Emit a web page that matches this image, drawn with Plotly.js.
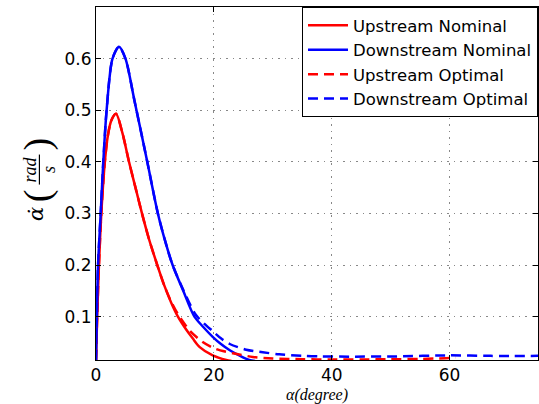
<!DOCTYPE html>
<html>
<head>
<meta charset="utf-8">
<script src="https://cdn.plot.ly/plotly-3.0.1.min.js"></script>
<style>html,body{margin:0;padding:0;background:#fff}#chart{width:539px;height:404px}</style>
</head>
<body>
<div id="chart"></div>
<script>
// Upstream Nominal (red solid)
const upNomX = [0, 0.2, 0.5, 0.9, 1.5, 2.0, 2.6, 3.4, 4.5, 5.6, 6.7, 7.8, 9.0, 10.4, 11.6, 12.8, 13.9, 15.3, 16.4, 17.6, 19.8, 22.1, 23.0];
const upNomY = [0.016, 0.1, 0.2, 0.3, 0.4, 0.45, 0.48, 0.493, 0.455, 0.4, 0.35, 0.3, 0.25, 0.2, 0.16, 0.126, 0.1, 0.075, 0.058, 0.041, 0.025, 0.016, 0.014];
// Downstream Nominal (blue solid)
const dnNomX = [0, 0.15, 0.35, 0.8, 1.24, 1.8, 2.8, 3.9, 5.0, 6.5, 8.7, 10.5, 11.9, 13.0, 14.8, 16.7, 18.2, 19.8, 21.2, 22.7, 24.3, 26.0, 27.0];
const dnNomY = [0.016, 0.1, 0.2, 0.3, 0.4, 0.5, 0.6, 0.623, 0.6, 0.52, 0.4, 0.3, 0.24, 0.2, 0.15, 0.1, 0.08, 0.061, 0.047, 0.035, 0.025, 0.016, 0.014];
// Upstream Optimal (red dashed)
const upOptX = [0, 0.2, 0.5, 0.9, 1.5, 2.0, 2.6, 3.4, 4.5, 5.6, 6.7, 7.8, 9.0, 10.4, 11.6, 12.8, 14.0, 15.9, 18.1, 20.4, 23.2, 26.6, 30.0, 35.0, 40.0, 45.0, 50.0, 55.0, 58.0, 60.0, 61.0];
const upOptY = [0.016, 0.1, 0.2, 0.3, 0.4, 0.45, 0.48, 0.493, 0.455, 0.4, 0.35, 0.3, 0.25, 0.2, 0.16, 0.128, 0.103, 0.073, 0.051, 0.037, 0.029, 0.022, 0.019, 0.0175, 0.017, 0.017, 0.0175, 0.018, 0.019, 0.02, 0.021];
// Downstream Optimal (blue dashed)
const dnOptX = [0, 0.15, 0.35, 0.8, 1.24, 1.8, 2.8, 3.9, 5.0, 6.5, 8.7, 10.5, 11.9, 13.0, 14.8, 16.9, 18.4, 19.8, 21.2, 22.7, 25.5, 28.3, 31.1, 35.0, 38.0, 43.0, 51.0, 60.0, 67.0, 75.0];
const dnOptY = [0.016, 0.1, 0.2, 0.3, 0.4, 0.5, 0.6, 0.623, 0.6, 0.52, 0.4, 0.3, 0.24, 0.2, 0.152, 0.104, 0.086, 0.072, 0.058, 0.047, 0.036, 0.031, 0.027, 0.024, 0.023, 0.0225, 0.023, 0.025, 0.024, 0.024];

const xTicks = [0, 20, 40, 60];
const yTicks = [0.1, 0.2, 0.3, 0.4, 0.5, 0.6];

const lineOpts = (color, dash) => ({color: color, width: 2.5, dash: dash, shape: 'spline', smoothing: 0.8});
const traces = [
  {x: upNomX, y: upNomY, name: 'Upstream Nominal', mode: 'lines', line: lineOpts('#ff0000', 'solid')},
  {x: dnNomX, y: dnNomY, name: 'Downstream Nominal', mode: 'lines', line: lineOpts('#0000ff', 'solid')},
  {x: upOptX, y: upOptY, name: 'Upstream Optimal', mode: 'lines', line: lineOpts('#ff0000', '10px,6px')},
  {x: dnOptX, y: dnOptY, name: 'Downstream Optimal', mode: 'lines', line: lineOpts('#0000ff', '10px,6px')}
];

const sans = 'DejaVu Sans, Liberation Sans, sans-serif';
const serif = 'Liberation Serif, Times New Roman, serif';

const axisCommon = {
  showline: true, linecolor: '#000', linewidth: 1, mirror: 'ticks',
  ticks: 'inside', ticklen: 5, tickcolor: '#000',
  showgrid: true, gridcolor: '#888', gridwidth: 1, griddash: '1.5px,5px',
  zeroline: false,
  tickfont: {family: sans, size: 17, color: '#000'}
};

// y-axis label drawn as a rotated fraction: α̇ (rad / s)
const yLab = (text, x, y, size, fam) => ({
  xref: 'paper', yref: 'paper', x: x, y: y, xanchor: 'center', yanchor: 'middle',
  text: text, showarrow: false, textangle: -90,
  font: {family: fam || serif, size: size, color: '#000'}
});

const layout = {
  width: 539, height: 404,
  margin: {l: 96, r: 1, t: 7, b: 44},
  paper_bgcolor: '#fff', plot_bgcolor: '#fff',
  showlegend: true,
  legend: {
    x: 1, y: 1, xanchor: 'right', yanchor: 'top',
    bgcolor: '#fff', bordercolor: '#000', borderwidth: 1,
    font: {family: sans, size: 16.5, color: '#000'},
    tracegroupgap: 0, itemwidth: 40
  },
  xaxis: Object.assign({}, axisCommon, {
    range: [0, 75], tickvals: xTicks, ticktext: xTicks.map(String),
    title: {text: '<i>α(degree)</i>', font: {family: serif, size: 16, color: '#000'}, standoff: 4}
  }),
  yaxis: Object.assign({}, axisCommon, {
    range: [0.016, 0.70], tickvals: yTicks, ticktext: yTicks.map(v => v.toFixed(1))
  }),
  annotations: [
    yLab('<i>α̇</i>', -0.137, 0.415, 21, 'DejaVu Serif, serif'),
    yLab('(', -0.132, 0.466, 38),
    yLab(')', -0.132, 0.612, 38),
    yLab('<i>rad</i>', -0.150, 0.539, 18),
    yLab('<i>s</i>', -0.106, 0.539, 18)
  ],
  shapes: [
    {type: 'line', xref: 'paper', yref: 'paper', x0: -0.128, x1: -0.128, y0: 0.497, y1: 0.582, line: {color: '#000', width: 1.2}}
  ]
};

Plotly.newPlot('chart', traces, layout, {displayModeBar: false, staticPlot: true});
</script>
</body>
</html>
